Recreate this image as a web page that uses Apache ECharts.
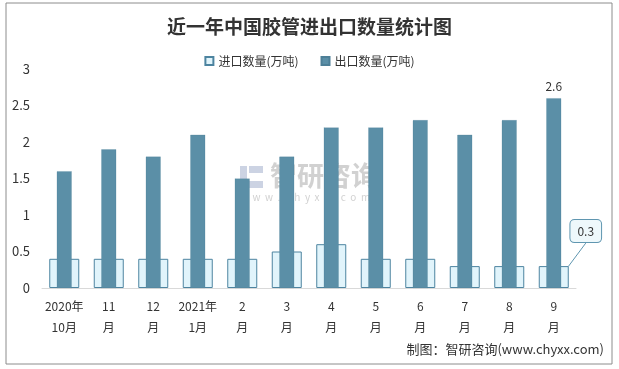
<!DOCTYPE html>
<html><head><meta charset="utf-8">
<script src="https://cdn.jsdelivr.net/npm/echarts@6/dist/echarts.min.js"></script>
<style>html,body{margin:0;padding:0;background:#fff}#c{width:619px;height:369px}</style>
</head><body><div id="c"></div>
<script>
const categories = ['2020年\n10月','11\n月','12\n月','2021年\n1月','2\n月','3\n月','4\n月','5\n月','6\n月','7\n月','8\n月','9\n月'];
const importValues = [0.4,0.4,0.4,0.4,0.4,0.5,0.6,0.4,0.4,0.3,0.3,0.3];
const exportValues = [1.6,1.9,1.8,2.1,1.5,1.8,2.2,2.2,2.3,2.1,2.3,2.6];
const yTicks = [0,0.5,1,1.5,2,2.5,3];

const font = '"Noto Sans CJK SC","Microsoft YaHei",sans-serif';
const chart = echarts.init(document.getElementById('c'), null, {renderer:'canvas'});
const last = importValues.length - 1;
chart.setOption({
  animation:false,
  textStyle:{fontFamily:font},
  title:{text:'近一年中国胶管进出口数量统计图',left:'center',top:12,
    textStyle:{fontFamily:font,fontSize:19,fontWeight:'bold',color:'#333'}},
  legend:{top:50,left:'center',itemWidth:8,itemHeight:8,itemGap:22,
    textStyle:{fontFamily:font,fontSize:12,color:'#333'},
    data:[{name:'进口数量(万吨)',icon:'rect'},{name:'出口数量(万吨)',icon:'rect'}]},
  grid:{left:42,right:43,top:69,bottom:81},
  xAxis:[
    {type:'category',data:categories,
      axisLine:{lineStyle:{color:'#d9d9d9'}},axisTick:{show:false},
      axisLabel:{color:'#333',fontSize:12,lineHeight:21,margin:8,interval:0}},
    {type:'category',data:categories,show:false,position:'bottom'}
  ],
  yAxis:{type:'value',min:yTicks[0],max:yTicks[yTicks.length-1],interval:0.5,
    splitLine:{show:false},axisLine:{show:false},axisTick:{show:false},
    axisLabel:{color:'#333',fontSize:13,margin:12,formatter:v=>String(v)}},
  graphic:[
    {type:'rect',shape:{x:6,y:3,width:606,height:361},style:{fill:'none',stroke:'#8c8c8c',lineWidth:1},z:-10},
    {type:'text',left:270,top:162,style:{text:'智研咨询',fill:'rgba(140,140,140,0.4)',font:'bold 27px '+font},z:1},
    {type:'text',left:240,top:192,style:{text:'w  w  w  .  c  h  y  x  x  .  c  o  m',fill:'rgba(140,140,140,0.4)',font:'10px '+font},z:1},
    {type:'group',left:240,top:166,z:1,children:[
      {type:'rect',shape:{x:0,y:0,width:7,height:22},style:{fill:'rgba(110,130,175,0.35)'}},
      {type:'rect',shape:{x:9,y:0,width:14,height:7},style:{fill:'rgba(110,130,175,0.35)'}},
      {type:'rect',shape:{x:9,y:15,width:14,height:7},style:{fill:'rgba(110,130,175,0.35)'}}
    ]},
    {type:'text',right:15,top:343,style:{text:'制图：智研咨询(www.chyxx.com)',fill:'#333',font:'13px '+font}}
  ],
  series:[
    {name:'进口数量(万吨)',type:'bar',xAxisIndex:0,data:importValues.map((v,i)=>i===last?{value:v,label:{show:true}}:v),
      barWidth:30,z:2,
      itemStyle:{color:'#e1f4fb',borderColor:'#4d84a0',borderWidth:1},
      label:{show:false,position:'top',color:'#333',fontSize:12,backgroundColor:'#eef8fb',
        borderColor:'#5f96b0',borderWidth:1,borderRadius:4,padding:[5,7]},
      labelLayout:p=>p.dataIndex===last?{dx:32,dy:-19}:{},
      labelLine:{show:true,lineStyle:{color:'#5f96b0',width:1}}},
    {name:'出口数量(万吨)',type:'bar',xAxisIndex:1,data:exportValues.map((v,i)=>i===last?{value:v,label:{show:true}}:v),
      barWidth:15,z:3,
      itemStyle:{color:'#5b8fa7',borderColor:'#4d7f97',borderWidth:0.5,borderType:'dotted'},
      label:{show:false,position:'top',color:'#333',fontSize:12,distance:6}}
  ]
});
</script></body></html>
